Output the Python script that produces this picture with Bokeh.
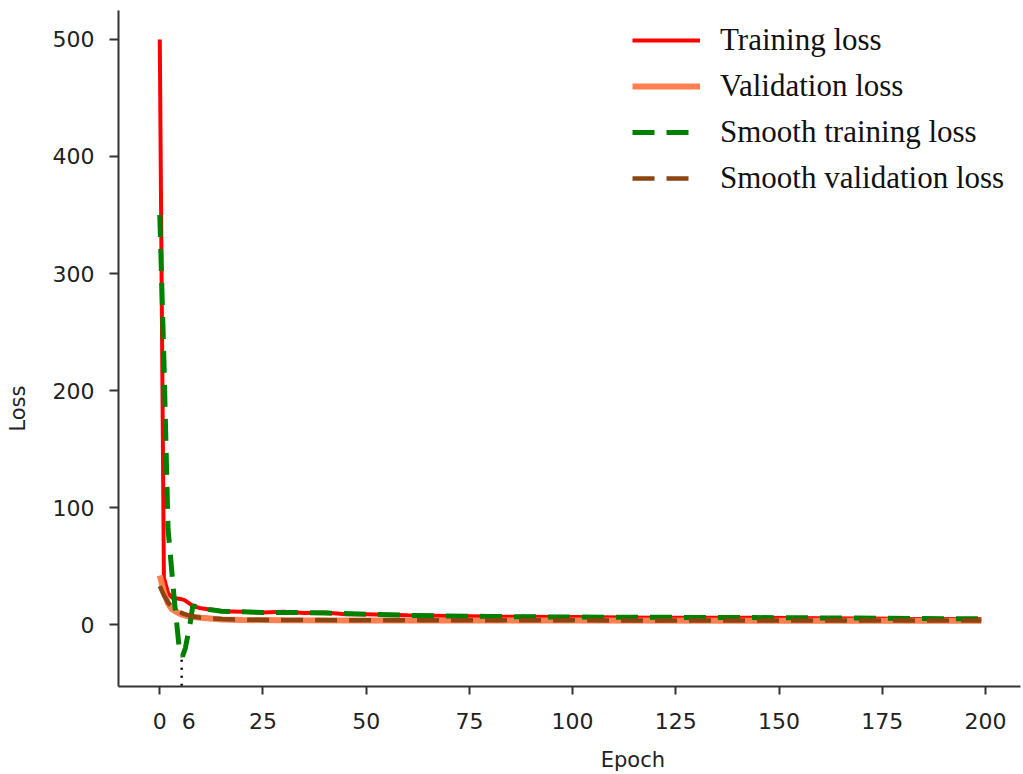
from bokeh.plotting import figure
from bokeh.models import FixedTicker, Legend, LegendItem, Range1d
from bokeh.embed import file_html
from bokeh.resources import INLINE

# ---- data ----
train_epoch = [0, 1, 2, 3, 5, 6, 8, 10, 12, 15, 20, 25, 30, 35, 40, 45, 50, 60, 70, 80, 100, 120, 140, 160, 180, 199]
train_loss = [500, 40, 27, 23, 22, 21, 16, 14, 13, 11.5, 11, 10.5, 11, 10, 10.5, 9, 9, 8, 7.5, 7, 6.5, 6, 6, 5.5, 5, 4.8]

val_epoch = [0, 1, 2, 3, 5, 7, 10, 15, 20, 30, 50, 100, 150, 199]
val_loss = [42, 28, 18, 13, 9, 7, 6, 4.5, 4, 3.7, 3.5, 3.5, 3.3, 3.3]

smooth_train_epoch = [0, 1, 2, 3.5, 4.8, 5.5, 6.2, 7.2, 8, 10, 12, 15, 20, 25, 30, 40, 50, 60, 80, 100, 150, 199]
smooth_train_loss = [350, 226, 82, 22, -23, -27, -20, -2, 16, 15, 13, 11.5, 11, 10.5, 10.5, 10, 9, 8, 7, 6.5, 6, 5]

smooth_val_epoch = [0, 1, 2, 3, 4, 6, 8, 10, 15, 20, 30, 50, 100, 150, 199]
smooth_val_loss = [33, 25, 19, 15, 12, 9, 7, 6, 4.8, 4.3, 4, 3.8, 3.7, 3.6, 3.5]

x_tick_marks = [0, 25, 50, 75, 100, 125, 150, 175, 200]
x_label_pos = [0, 7, 25, 50, 75, 100, 125, 150, 175, 200]
x_label_text = ["0", "6", "25", "50", "75", "100", "125", "150", "175", "200"]
y_ticks = [0, 100, 200, 300, 400, 500]
marked_epoch = 5.3

series_names = ["Training loss", "Validation loss", "Smooth training loss", "Smooth validation loss"]

# ---- figure ----
x_lo, x_hi = -10, 208.5
y_lo, y_hi = -52.8, 524.7
p = figure(width=1022, height=774, output_backend="svg", toolbar_location=None,
           x_range=Range1d(x_lo, x_hi), y_range=Range1d(y_lo, y_hi),
           min_border_left=118, min_border_right=2, min_border_top=10, min_border_bottom=86)
p.outline_line_color = None
p.grid.visible = False

axis_col = "#333333"
txt_col = "#222222"
NB = "\u00a0"
for ax in (p.xaxis[0], p.yaxis[0]):
    ax.axis_line_color = axis_col
    ax.axis_line_width = 2
    ax.major_tick_line_color = axis_col
    ax.major_tick_line_width = 2
    ax.major_tick_in = 0
    ax.minor_tick_line_color = None
    ax.major_label_text_font = "DejaVu Sans"
    ax.major_label_text_font_size = "22px"
    ax.major_label_text_color = txt_col
    ax.axis_label_text_font = "DejaVu Sans"
    ax.axis_label_text_font_size = "21px"
    ax.axis_label_text_font_style = "normal"
    ax.axis_label_text_color = txt_col

# x axis: labels from major ticks (no marks), marks from minor ticks
p.xaxis.ticker = FixedTicker(ticks=x_label_pos, minor_ticks=x_tick_marks)
p.xaxis.major_label_overrides = {pos: t for pos, t in zip(x_label_pos, x_label_text)}
p.xaxis.major_tick_line_color = None
p.xaxis.major_tick_out = 0
p.xaxis.minor_tick_line_color = axis_col
p.xaxis.minor_tick_line_width = 2
p.xaxis.minor_tick_in = 0
p.xaxis.minor_tick_out = 8
p.xaxis.major_label_standoff = 18
p.xaxis.axis_label = NB * 19 + "Epoch"
p.xaxis.axis_label_standoff = 16

p.yaxis.ticker = FixedTicker(ticks=y_ticks)
p.yaxis.major_tick_out = 9
p.yaxis.major_label_standoff = 15
p.yaxis.axis_label = "Loss" + NB * 18
p.yaxis.axis_label_standoff = 20

# ---- lines ----
r_train = p.line(train_epoch, train_loss, line_color="#FF0000", line_width=4)
r_val = p.line(val_epoch, val_loss, line_color="#FF7F50", line_width=6)
r_strain = p.line(smooth_train_epoch, smooth_train_loss, line_color="#008000", line_width=5,
                  line_dash="22 12")
r_sval = p.line(smooth_val_epoch, smooth_val_loss, line_color="#8B4513", line_width=4.5,
                line_dash="22 12")

# dotted marker from the minimum of smooth training loss down to the axis
p.segment(x0=[marked_epoch], y0=[min(smooth_train_loss) - 3], x1=[marked_epoch], y1=[y_lo],
          line_color="black", line_width=2.5, line_dash="2 6")

# ---- legend ----
legend = Legend(items=[LegendItem(label=n, renderers=[r]) for n, r in
                       zip(series_names, [r_train, r_val, r_strain, r_sval])],
                location=(514, 490), orientation="vertical",
                background_fill_alpha=0, border_line_alpha=0, padding=0, margin=0,
                glyph_width=68, glyph_height=36, label_height=36, spacing=10, label_standoff=20,
                label_text_font="Liberation Serif", label_text_font_size="31px",
                label_text_color="#111111")
p.add_layout(legend)

open("out.html", "w").write(file_html(p, INLINE))
